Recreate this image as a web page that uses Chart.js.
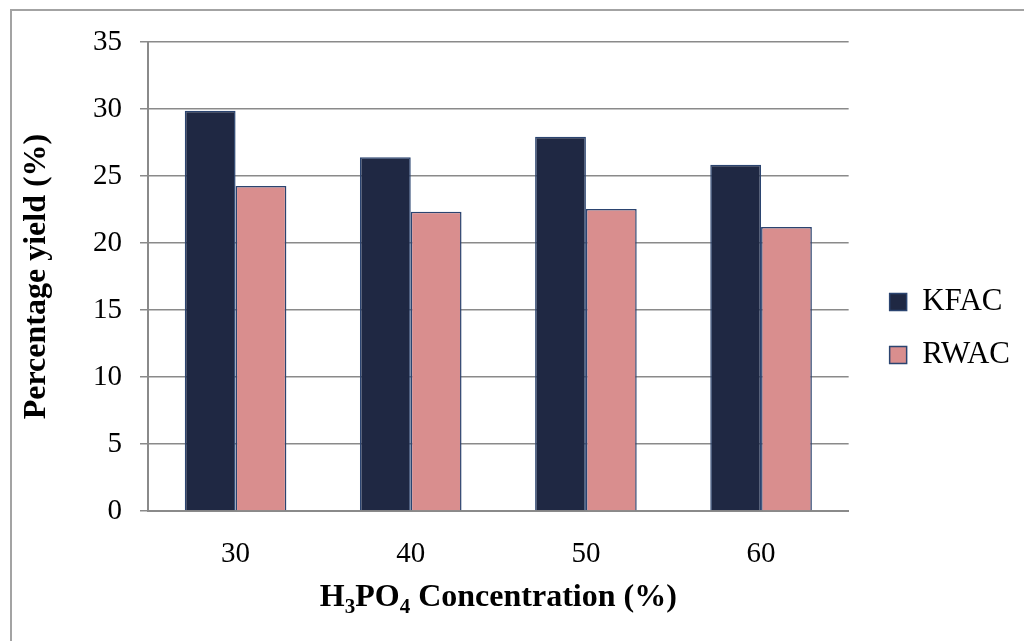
<!DOCTYPE html>
<html>
<head>
<meta charset="utf-8">
<script src="https://cdn.jsdelivr.net/npm/chart.js@4"></script>
<style>
  html, body { margin: 0; padding: 0; background: #ffffff; }
  #wrap { position: relative; width: 1024px; height: 641px; overflow: hidden; background: #ffffff; }
  #frame { position: absolute; left: 10px; top: 9px; width: 1040px; height: 660px; border: 2px solid #a3a3a3; box-sizing: border-box; }
  canvas { position: absolute; left: 0; top: 0; }
</style>
</head>
<body>
<div id="wrap">
  <div id="frame"></div>
  <canvas id="c" width="1024" height="641"></canvas>
</div>
<script>
// Yield of activated carbon at each acid concentration
const concentrations = ['30', '40', '50', '60'];
const kfacYield = [29.87, 26.39, 27.93, 25.84];
const rwacYield = [24.25, 22.34, 22.54, 21.19];
const yTicks = { min: 0, max: 35, step: 5 };

const SERIF = "'Liberation Serif', 'Times New Roman', serif";
const NAVY = '#1f2843';
const EDGE = '#2b4470';
const PINK = '#d98e8e';

// x-axis title with real subscripts (H3PO4)
const xTitlePlugin = {
  id: 'xTitle',
  afterDraw(chart) {
    const ctx = chart.ctx;
    const area = chart.chartArea;
    const parts = [
      ['H', false], ['3', true], ['PO', false], ['4', true], [' Concentration (%)', false]
    ];
    const big = 'bold 32px ' + SERIF;
    const small = 'bold 21px ' + SERIF;
    ctx.save();
    let total = 0;
    parts.forEach(p => { ctx.font = p[1] ? small : big; total += ctx.measureText(p[0]).width; });
    let x = (area.left + area.right) / 2 - total / 2;
    const y = chart.scales.x.bottom - 35;
    ctx.fillStyle = '#000';
    ctx.textBaseline = 'alphabetic';
    parts.forEach(p => {
      ctx.font = p[1] ? small : big;
      ctx.fillText(p[0], x, p[1] ? y + 7 : y);
      x += ctx.measureText(p[0]).width;
    });
    ctx.restore();
  }
};

// place the legend a little away from the plot, vertically around the middle
const legendPlacer = {
  id: 'legendPlacer',
  afterLayout(chart) {
    const lg = chart.legend;
    const dx = chart.chartArea.right + 19 - lg.left;
    lg.left += dx; lg.right += dx;
    const dy = -13;
    lg.top += dy; lg.bottom += dy;
  }
};

new Chart(document.getElementById('c'), {
  type: 'bar',
  data: {
    labels: concentrations,
    datasets: [
      { label: 'KFAC', data: kfacYield, backgroundColor: NAVY, borderColor: EDGE, borderWidth: 1.5 },
      { label: 'RWAC', data: rwacYield, backgroundColor: PINK, borderColor: EDGE, borderWidth: 1.5 }
    ]
  },
  options: {
    responsive: false,
    animation: false,
    devicePixelRatio: 1,
    layout: { padding: { left: 14, top: 42, right: 23, bottom: 0 } },
    datasets: { bar: { categoryPercentage: 0.58, barPercentage: 1.0 } },
    plugins: {
      tooltip: { enabled: false },
      legend: {
        position: 'right',
        align: 'center',
        labels: {
          boxWidth: 17, boxHeight: 17, padding: 22,
          color: '#000',
          font: { family: SERIF, size: 31 }
        }
      }
    },
    scales: {
      x: {
        grid: { display: false },
        border: { display: true, color: '#8a8a8a', width: 2 },
        ticks: { color: '#000', font: { family: SERIF, size: 29 }, padding: 18 },
        afterFit(s) { s.height = 130; }
      },
      y: {
        min: yTicks.min, max: yTicks.max,
        grid: { color: '#8a8a8a', lineWidth: 1.5, tickLength: 8 },
        border: { display: true, color: '#8a8a8a', width: 2 },
        ticks: { stepSize: yTicks.step, color: '#000', font: { family: SERIF, size: 29 }, padding: 18 },
        title: {
          display: true, text: 'Percentage yield (%)', color: '#000',
          font: { family: SERIF, size: 32, weight: 'bold' }, padding: { top: 4, bottom: 0 }
        },
        afterFit(s) { s.width = 134; }
      }
    }
  },
  plugins: [xTitlePlugin, legendPlacer]
});
</script>
</body>
</html>
